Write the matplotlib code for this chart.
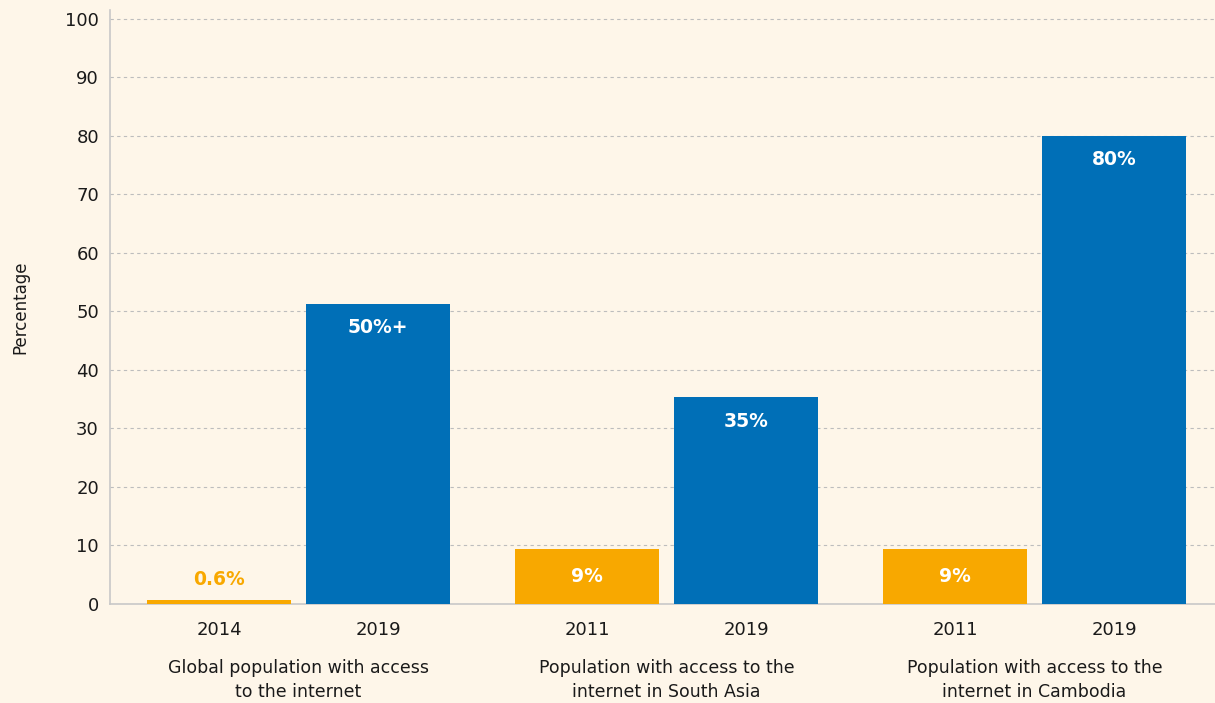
import matplotlib
matplotlib.use("Agg")
import matplotlib.pyplot as plt
from matplotlib.transforms import offset_copy

plt.rcParams['font.family'] = ['DejaVu Sans']

groups = ["Global population with access\nto the internet",
          "Population with access to the\ninternet in South Asia",
          "Population with access to the\ninternet in Cambodia"]
years = ["2014", "2019", "2011", "2019", "2011", "2019"]
values = [0.6, 51.3, 9.4, 35.3, 9.4, 80.0]
labels = ["0.6%", "50%+", "9%", "35%", "9%", "80%"]
kinds = ["old", "new", "old", "new", "old", "new"]

BG = "#fef6e9"
ORANGE = "#f8a800"
BLUE = "#006fb7"
TXT = "#1a1a1a"

fig = plt.figure(figsize=(12.15, 7.03), dpi=100, facecolor=BG)
ax = fig.add_axes([110/1215, 1-604/703, 1-110/1215, 594/703], facecolor=BG)

width = 1.0
pair_gap = 1.104
group_gap = 2.556
xs = []
for g in range(3):
    xs.append(g * group_gap)
    xs.append(g * group_gap + pair_gap)

colors = [ORANGE if k == "old" else BLUE for k in kinds]
ax.bar(xs, values, width=width, color=colors, zorder=3)

for x, v, lab, k in zip(xs, values, labels, kinds):
    if v < 3:
        t = offset_copy(ax.transData, fig=fig, x=0, y=21, units='dots')
        ax.text(x, v, lab, transform=t, ha='center', va='center',
                color=ORANGE, fontsize=13.5, fontweight='bold', zorder=4)
    elif k == "old":
        ax.text(x, v / 2, lab, ha='center', va='center',
                color='white', fontsize=13.5, fontweight='bold', zorder=4)
    else:
        t = offset_copy(ax.transData, fig=fig, x=0, y=-24, units='dots')
        ax.text(x, v, lab, transform=t, ha='center', va='center',
                color='white', fontsize=13.5, fontweight='bold', zorder=4)

ax.set_xlim(-0.757, 6.917)
ax.set_ylim(0, 101.5)
ax.set_yticks(range(0, 101, 10))
ax.yaxis.grid(True, linestyle=(0, (3, 3)), color='#bdbdbd', linewidth=0.8, zorder=0)
ax.tick_params(axis='y', length=0, labelsize=13, pad=8, colors=TXT)
ax.tick_params(axis='x', length=0, labelsize=13, pad=12, colors=TXT)
ax.set_xticks(xs)
ax.set_xticklabels(years)

for s in ['top', 'right']:
    ax.spines[s].set_visible(False)
for s in ['left', 'bottom']:
    ax.spines[s].set_color('#c8c8c8')
    ax.spines[s].set_linewidth(1.2)

ax.set_ylabel("Percentage", fontsize=12, color=TXT, labelpad=26)

for g in range(3):
    cx = (xs[2*g] + xs[2*g+1]) / 2
    t = offset_copy(ax.get_xaxis_transform(), fig=fig, x=0, y=-55, units='dots')
    ax.text(cx, 0, groups[g], transform=t,
            ha='center', va='top', fontsize=12.5, color=TXT, linespacing=1.4)

fig.savefig("out.png", dpi=100, facecolor=BG)
